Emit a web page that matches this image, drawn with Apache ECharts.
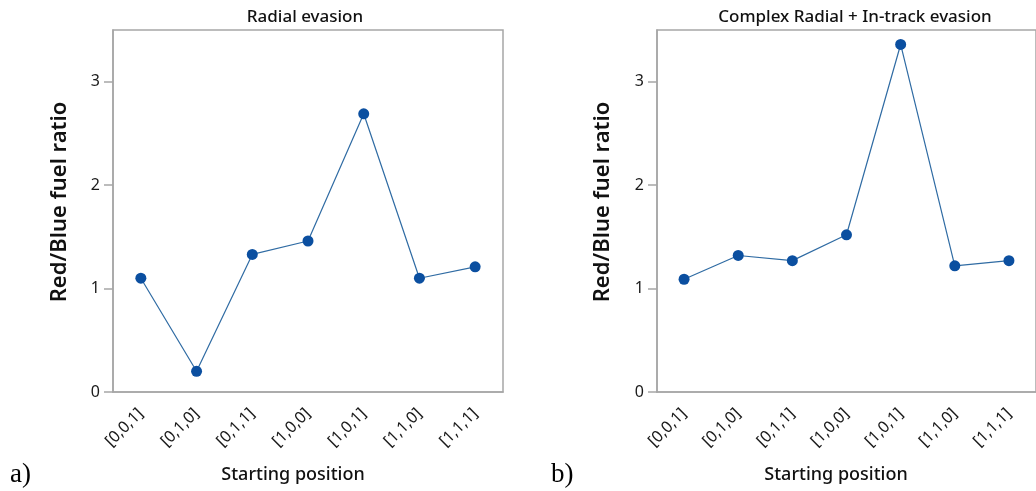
<!DOCTYPE html>
<html><head><meta charset="utf-8">
<script src="https://cdn.jsdelivr.net/npm/echarts@6/dist/echarts.min.js"></script>
<style>html,body{margin:0;padding:0;background:#fff}#c{width:1036px;height:491px}</style>
</head><body><div id="c"></div>
<script>
const categories = ['[0,0,1]','[0,1,0]','[0,1,1]','[1,0,0]','[1,0,1]','[1,1,0]','[1,1,1]'];
const radialValues = [1.10, 0.20, 1.33, 1.46, 2.69, 1.10, 1.21];
const complexValues = [1.09, 1.32, 1.27, 1.52, 3.36, 1.22, 1.27];
const yTicks = [0, 1, 2, 3];
const titles = ['Radial evasion', 'Complex Radial + In-track evasion'];
const yName = 'Red/Blue fuel ratio';
const xName = 'Starting position';
const panelLabels = ['a)', 'b)'];

const FONT = '"Noto Sans", "Open Sans", sans-serif';
const GRAY = '#a6a6a6';
const grids = [
  {left: 113, top: 30, width: 390, height: 362},
  {left: 657, top: 30, width: 389, height: 362}
];
function xAxis(i){
  return {
    type: 'category', gridIndex: i, data: categories, boundaryGap: true,
    axisLine: {lineStyle: {color: GRAY, width: 1.5}},
    axisTick: {alignWithLabel: true, length: 11, lineStyle: {color: GRAY, width: 1.5}},
    axisLabel: {rotate: 45, margin: 19, color: '#1a1a1a', fontSize: 16, fontFamily: FONT},
    splitLine: {show: false}
  };
}
function yAxis(i){
  return {
    type: 'value', gridIndex: i, min: 0, max: 3.5, interval: 1,
    axisLine: {show: true, lineStyle: {color: GRAY, width: 1.5}},
    axisTick: {show: true, length: 9, customValues: yTicks, lineStyle: {color: GRAY, width: 1.5}},
    axisLabel: {customValues: yTicks, margin: 13, color: '#1a1a1a', fontSize: 16, fontFamily: FONT},
    splitLine: {show: false}
  };
}
function series(i, vals){
  return {
    type: 'line', xAxisIndex: i, yAxisIndex: i, data: vals,
    symbol: 'circle', symbolSize: 11,
    itemStyle: {color: '#0b4fa0'},
    lineStyle: {color: '#2f6ba3', width: 1.2},
    clip: false
  };
}
const graphics = [];
const titleX = [305, 855];
const yNameX = [60, 603];
const xNameX = [293, 836];
const panelX = [10, 551];
for (let i = 0; i < 2; i++) {
  graphics.push({type: 'text', x: titleX[i], y: 17, style: {text: titles[i], font: '500 17px ' + FONT, fill: '#111', align: 'center', verticalAlign: 'middle'}});
  graphics.push({type: 'text', x: yNameX[i], y: 202, rotation: Math.PI/2, style: {text: yName, font: '600 22px ' + FONT, fill: '#111', align: 'center', verticalAlign: 'middle'}});
  graphics.push({type: 'text', x: xNameX[i], y: 475, style: {text: xName, font: '500 18px ' + FONT, fill: '#111', align: 'center', verticalAlign: 'middle'}});
  graphics.push({type: 'text', x: panelX[i], y: 475, style: {text: panelLabels[i], font: '27px "Liberation Serif", serif', fill: '#000', align: 'left', verticalAlign: 'middle'}});
}
const chart = echarts.init(document.getElementById('c'), null, {renderer: 'canvas'});
chart.setOption({
  animation: false,
  backgroundColor: '#fff',
  grid: grids.map(g => Object.assign({show: true, borderColor: GRAY, borderWidth: 1.5, backgroundColor: 'transparent'}, g)),
  xAxis: [xAxis(0), xAxis(1)],
  yAxis: [yAxis(0), yAxis(1)],
  series: [series(0, radialValues), series(1, complexValues)],
  graphic: graphics
});
</script></body></html>
